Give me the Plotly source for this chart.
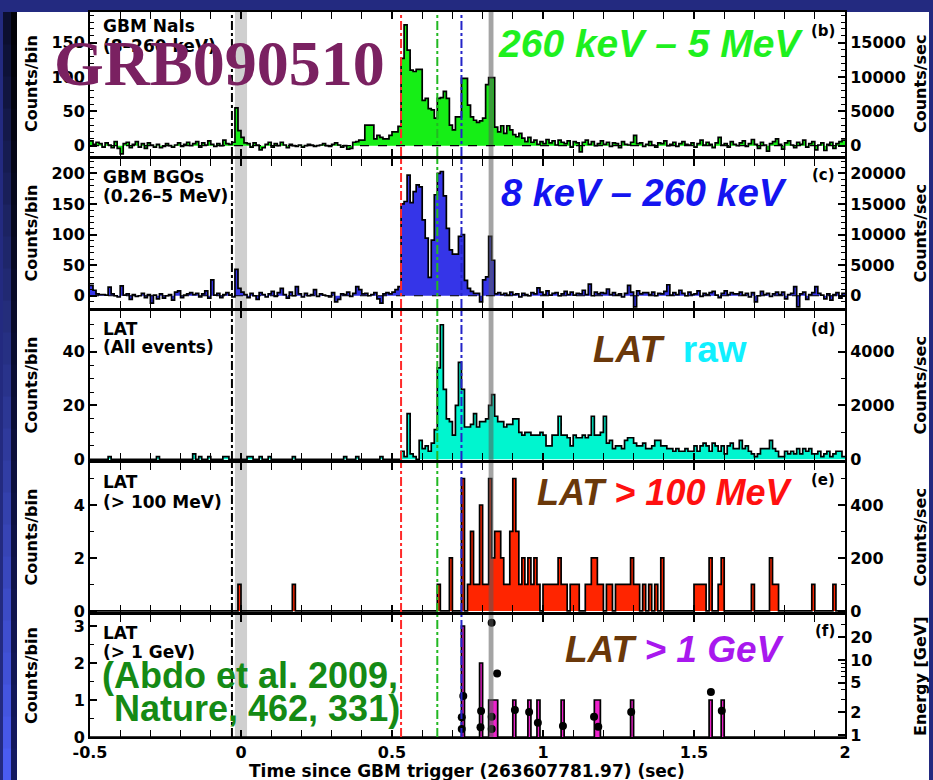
import numpy as np
import plotly.graph_objects as go

W, H = 933, 780

# ---------------------------------------------------------------- binning
T_START, T_STOP, BIN = -0.5, 2.0, 0.01
edges = np.round(np.arange(T_START, T_STOP + BIN / 2, BIN), 3)
N_BINS = len(edges) - 1          # 250 bins of 10 ms
RATE = 1.0 / BIN                 # counts/bin -> counts/sec

# ------------------------------------------------ GBM NaI counts per bin
nai_counts = (
    [7, 2, 5, 3, -2, 4, 1, -3, 6, -4, -12, 3, 5, -3, 2, 6, -2, 3, -4, 4,
     1, -2, 2, -3, -1, 3, 0, -2, 1, 4, -1, 2, 5, 0, 3, 6, -2, 4, 1, 7,
     2, -1, 3, 0, 8, 3, 2, 5]
    + [55, 22, 12, 4]
    + [3, -2, 4, 1, -6, -3, 2, 5, -2, 3, 0, 5, 1, -3, 2, 0, -1, 1, -2, 0,
       2, 1, -1, 0, 1, 3, 0, -1, 2, 4, 1, -2, 0]
    + [-5, -4, 5, 6, 8, 8]
    + [30, 30, 30]
    + [10, 15, 12, 10, 10, 15, 20, 20, 28]
    + [127, 176, 139, 110, 108, 111, 111, 66, 69, 54, 52, 40, 69, 70, 79,
       69, 30, 23, 42, 42, 98, 98, 59, 42, 37, 34, 36, 40, 89, 99, 99]
    + [27, 20, 29, 18, 29, 23, 16, 13, 18, 11]
    + [6, 12, 5, 8, 2, 6, 3, 9, 4, 7,
       1, 8, 5, 3, 7, -2, 6, 4, -9, 5,
       8, 2, 6, 0, 3, 7, 2, 5, -1, 4,
       3, -3, 6, 2, 1, 5, 15, 3, 4, -1,
       2, 6, 1, -2, 4, 3, 7, 0, 2, 5,
       -1, 3, 6, 2, 1, 4, -2, 3, 8, 1,
       5, 2, -3, 4, 12, 1, 3, -2, 6, 2,
       0, 4, 7, -1, 3, 9, 2, -4, 5, 1,
       -8, 3, 6, 10, 2, -5, 4, 7, 1, -3,
       5, 2, 8, -2, 3, 6, -6, 1, 4, -7,
       2, 5, -4, 3, 6, 8]
)

# ------------------------------------------------ GBM BGO counts per bin
bgo_counts = (
    [17, 9, 3, 2, 2, 1, 14, 3, 0, -2, 16, 1, 3, -6, 2, -1, 0, 4, -3, 2,
     -12, 1, -5, 3, -4, 0, 2, -7, 6, 8, -3, 1, 3, 5, 2, 4, -2, 3, 8, -4,
     26, 1, 4, -3, 2, 5, 1, -2]
    + [43, 12, 6, 2]
    + [-3, 4, 0, -6, 5, 2, -2, 3, 7, -1, 5, 12, 2, -4, 6, 0, 15, 3, -2, 4,
       0, 2, 10, -1, 3, 1, 0, -2, 5, -10, -6, 3, 2, 6, -1, 4, 15, 10, 3]
    + [4, 0, 2, 5, -5, -12, 3, 5, 3, 6, 10, 15]
    + [150, 154, 197, 152, 170, 181, 178, 124, 94, 30, 91, 165, 200, 203,
       163, 110, 75, 68, 68, 97, 100, 25, 12, 7, 4, 4, -10, 26, 31, 97, 58]
    + [3, 5, 2, 4, 1, 6, 2, 3, -2, 4,
       2, 0, 5, 3, 13, 6, 2, 8, 1, 4,
       5, 0, 3, 7, 2, 6, 1, 4, 3, 9,
       2, 19, 0, 6, 3, 5, 4, 11, 2, 5,
       1, 3, -2, 4, 17, 6, -18, 8, 3, 5,
       5, 2, 6, 0, 4, 3, 7, 18, 1, 5,
       2, 9, 4, 0, 6, 2, 3, 8, -1, 4,
       2, 5, 7, 1, -3, 4, 8, 2, 5, 3,
       3, 6, 1, 4, -2, 5, -10, 0, 7, 2,
       4, -1, 3, 6, 2, 6, -5, 2, 4, 15,
       -18, 3, 6, -6, 2, 5, 15, 4, 1, -5,
       3, -7, 2, 5, -4, 4]
)

# ------------------------------------------- LAT all events, counts per bin
lat_all_counts = (
    [0, 0, 0, 0, 0, 0, 1, 0, 0, 0, 0, 0, 0, 0, 0, 0, 0, 0, 0, 0,
     0, 0, 1, 0, 0, 0, 0, 0, 0, 0, 0, 0, 0, 0, 2, 0, 1, 0, 0, 1,
     0, 0, 0, 0, 1, 1, 0, 0]
    + [0, 0, 0, 0, 1, 1, 0, 0, 1, 0,
       0, 1, 0, 0, 0, 0, 0, 0, 0, 1,
       0, 0, 0, 0, 0, 0, 0, 0, 0, 0,
       0, 0, 0, 0, 0, 0, 1, 0, 0, 0,
       1, 0, 0, 0, 0, 0, 0, 0, 1, 0,
       0, 0, 0, 0, 0]
    + [3, 1, 17, 2, 1, 0, 7, 4, 5, 3, 6, 11, 34, 50, 26, 15, 14, 9, 20, 36,
       26, 12, 12, 13, 17, 12, 14, 14, 15, 20, 24]
    + [16, 14, 14, 12, 13, 13, 15, 15, 10, 9, 10, 10, 9, 9, 9, 10]
    + [9, 5, 5, 9, 9, 16, 9, 9, 8, 5,
       9, 8, 8, 9, 8, 9, 16, 9, 9, 10,
       16, 6, 7, 4, 5, 5, 4, 7, 8, 8,
       6, 5, 5, 6, 4, 4, 5, 7, 7, 5,
       5, 4, 4, 3, 4, 3, 3, 4, 3, 3,
       5, 3, 5, 6, 5, 3, 6, 5, 3, 5,
       2, 5, 6, 4, 4, 7, 4, 5, 3, 2,
       1, 2, 4, 4, 4, 7, 4, 3, 1, 1,
       3, 2, 3, 2, 4, 2, 4, 3, 4, 2,
       2, 3, 1, 2, 3, 1, 2, 3, 3, 1]
)

# ------------------------------ LAT > 100 MeV: non-empty bins (start time)
lat100_times = [-0.01, 0.17, 0.65, 0.69, 0.73, 0.75, 0.76, 0.77, 0.78, 0.79,
                0.80, 0.81, 0.82, 0.83, 0.84, 0.85, 0.86, 0.87, 0.88, 0.89,
                0.90, 0.91, 0.92, 0.93, 0.94, 0.95, 0.96, 0.97, 0.98, 1.00,
                1.01, 1.02, 1.03, 1.04, 1.05, 1.06, 1.07, 1.09, 1.10, 1.11,
                1.14, 1.15, 1.16, 1.17, 1.18, 1.19, 1.21, 1.22, 1.24, 1.25,
                1.26, 1.27, 1.28, 1.29, 1.30, 1.31, 1.33, 1.35, 1.37, 1.39,
                1.50, 1.51, 1.52, 1.53, 1.55, 1.58, 1.59, 1.69, 1.75, 1.76,
                1.77, 1.89, 1.96]
lat100_counts = [1, 1, 1, 2, 5, 1, 3, 1, 1, 4,
                 1, 1, 5, 2, 3, 3, 2, 1, 1, 3,
                 5, 3, 1, 2, 1, 2, 1, 2, 1, 1,
                 1, 1, 1, 1, 2, 1, 1, 1, 1, 1,
                 1, 1, 2, 2, 1, 1, 1, 1, 1, 1,
                 1, 1, 1, 2, 1, 1, 1, 1, 1, 2,
                 1, 1, 1, 1, 2, 1, 2, 1, 2, 1,
                 1, 1, 1]

# -------------------------------- LAT > 1 GeV: non-empty bins (start time)
lat1gev_times = [0.73, 0.79, 0.82, 0.83, 0.84, 0.90, 0.95, 0.98, 1.06,
                 1.17, 1.18, 1.29, 1.55, 1.59]
lat1gev_counts = [3, 2, 1, 1, 1, 1, 1, 1, 1, 1, 1, 1, 1, 1]

# ------------------------------------ individual > 1 GeV photons
photon_times = [0.736, 0.731, 0.731, 0.795, 0.793, 0.830, 0.830, 0.830,
                0.848, 0.907, 0.954, 0.983, 1.066, 1.169, 1.183, 1.292,
                1.556, 1.592]
photon_energy_gev = [3.3, 1.72, 1.2, 2.09, 1.27, 31.4, 1.75, 1.2,
                     6.6, 2.15, 2.03, 1.46, 1.32, 1.75, 1.29, 2.03,
                     3.74, 2.1]

# --------------------------------------------- time markers
marker_times = [-0.03, 0.53, 0.65, 0.73]
marker_colors = ["#000000", "#ff2a2a", "#22b822", "#2424c8"]
trigger_band = (-0.02, 0.02)
highlight_band = (0.82, 0.836)

x_tick_vals = [-0.5, 0, 0.5, 1, 1.5, 2]
x_tick_text = ["-0.5", "0", "0.5", "1", "1.5", "2"]

for arr in (nai_counts, bgo_counts, lat_all_counts):
    assert len(arr) == N_BINS, len(arr)


def sparse_to_bins(times, counts):
    out = np.zeros(N_BINS)
    for t, c in zip(times, counts):
        out[int(round((t - T_START) / BIN))] = c
    return out


lat100 = sparse_to_bins(lat100_times, lat100_counts)
lat1gev = sparse_to_bins(lat1gev_times, lat1gev_counts)

FIG_FONT = "DejaVu Sans"
SLIDE_FONT = "Liberation Sans"

panels = [
    dict(counts=np.array(nai_counts, float), fill="#16ee16",
         yrange=(-15, 194.6), dtick=50, minor=10, rdtick=5000, rminor=1000,
         px=(12, 156), zero_dash=True),
    dict(counts=np.array(bgo_counts, float), fill="#3535e8",
         yrange=(-20, 223.4), dtick=50, minor=10, rdtick=5000, rminor=1000,
         px=(159, 308), zero_dash=True),
    dict(counts=np.array(lat_all_counts, float), fill="#00f5cf",
         yrange=(-0.26, 55.1), dtick=20, minor=5, rdtick=2000, rminor=1000,
         px=(311, 460), zero_dash=False),
    dict(counts=lat100, fill="#ff2500",
         yrange=(-0.04, 5.585), dtick=2, minor=1, rdtick=200, rminor=100,
         px=(463, 612), zero_dash=False),
    dict(counts=lat1gev, fill="#ee22cc",
         yrange=(0, 3.297), dtick=1, minor=0.5, rdtick=None, rminor=None,
         px=(615, 737), zero_dash=False),
]

X_LEFT, X_RIGHT = 90 / W, 845 / W
tickfont = dict(family=FIG_FONT, size=16, color="black", weight="bold")

fig = go.Figure()
layout = {}
shapes = []

for i, p in enumerate(panels, start=1):
    sx = "" if i == 1 else str(i)
    xa, ya = f"x{sx}", f"y{sx}"
    ra = f"y{i + 5}"
    top, bot = p["px"]
    domain = [1 - bot / H, 1 - top / H]

    # step histogram
    c = p["counts"]
    fig.add_trace(go.Scatter(
        x=edges, y=np.append(c, c[-1]), mode="lines",
        line=dict(shape="hv", color="black", width=1.7),
        fill="tozeroy", fillcolor=p["fill"],
        xaxis=xa, yaxis=ya, hoverinfo="skip", showlegend=False))

    layout[f"xaxis{sx}"] = dict(
        domain=[X_LEFT, X_RIGHT], range=[T_START, T_STOP], anchor=ya,
        automargin=False,
        showline=True, linecolor="black", linewidth=2, mirror="allticks",
        ticks="inside", ticklen=7, tickwidth=1.5, tickcolor="black",
        tickmode="array", tickvals=x_tick_vals, ticktext=x_tick_text,
        showticklabels=(i == 5), tickfont=tickfont,
        minor=dict(ticks="inside", ticklen=4, tickwidth=1.2,
                   tickcolor="black", dtick=0.1, tick0=-0.5, showgrid=False),
        showgrid=False, zeroline=False, fixedrange=True)

    layout[f"yaxis{sx}"] = dict(
        domain=domain, range=list(p["yrange"]), anchor=xa, side="left",
        automargin=False,
        showline=True, linecolor="black", linewidth=2,
        ticks="inside", ticklen=7, tickwidth=1.5, tickcolor="black",
        dtick=p["dtick"], tick0=0, tickfont=tickfont, tickformat="d",
        minor=dict(ticks="inside", ticklen=4, tickwidth=1.2,
                   tickcolor="black", dtick=p["minor"], tick0=0,
                   showgrid=False),
        showgrid=False, zeroline=False, fixedrange=True)

    if p["rdtick"] is not None:
        layout[f"yaxis{i + 5}"] = dict(
            overlaying=ya, anchor=xa, side="right", automargin=False,
            range=[v * RATE for v in p["yrange"]],
            showline=True, linecolor="black", linewidth=2,
            ticks="inside", ticklen=7, tickwidth=1.5, tickcolor="black",
            dtick=p["rdtick"], tick0=0, tickfont=tickfont, tickformat="d",
            minor=dict(ticks="inside", ticklen=4, tickwidth=1.2,
                       tickcolor="black", dtick=p["rminor"], tick0=0,
                       showgrid=False),
            showgrid=False, zeroline=False, fixedrange=True)
        fig.add_trace(go.Scatter(x=[None], y=[None], xaxis=xa, yaxis=ra,
                                 hoverinfo="skip", showlegend=False))
    else:
        layout[f"yaxis{i + 5}"] = dict(
            overlaying=ya, anchor=xa, side="right", type="log",
            automargin=False, range=[-0.027, 1.6],
            showline=True, linecolor="black", linewidth=2,
            ticks="inside", ticklen=7, tickwidth=1.5, tickcolor="black",
            tickmode="array", tickvals=[1, 2, 5, 10, 20],
            ticktext=["1", "2", "5", "10", "20"], tickfont=tickfont,
            minor=dict(ticks="inside", ticklen=4, tickwidth=1.2,
                       tickcolor="black", tickmode="array",
                       tickvals=[3, 4, 6, 7, 8, 9, 30], showgrid=False),
            showgrid=False, zeroline=False, fixedrange=True)
        fig.add_trace(go.Scatter(
            x=photon_times, y=photon_energy_gev, mode="markers",
            marker=dict(color="black", size=8),
            xaxis=xa, yaxis=ra, hoverinfo="skip", showlegend=False))

    # shaded intervals
    shapes.append(dict(type="rect", xref=xa, yref=f"{ya} domain",
                       x0=trigger_band[0], x1=trigger_band[1], y0=0, y1=1,
                       fillcolor="#cfcfcf", line_width=0, layer="below"))
    shapes.append(dict(type="rect", xref=xa, yref=f"{ya} domain",
                       x0=highlight_band[0], x1=highlight_band[1], y0=0, y1=1,
                       fillcolor="rgba(90,90,90,0.55)", line_width=0,
                       layer="above"))
    # zero reference line
    if p["zero_dash"]:
        shapes.append(dict(type="line", xref=f"{xa} domain", yref=ya,
                           x0=0, x1=1, y0=0, y1=0,
                           line=dict(color="black", width=1.2, dash="dash"),
                           layer="above"))
    # time markers
    for t, col in zip(marker_times, marker_colors):
        shapes.append(dict(type="line", xref=xa, yref=f"{ya} domain",
                           x0=t, x1=t, y0=0, y1=1,
                           line=dict(color=col, width=2, dash="dashdot"),
                           layer="above"))

# --------------------------------------------------------- slide framing
NAVY = "#232a80"
shapes.insert(0, dict(type="rect", xref="paper", yref="paper",
                      x0=17 / W, x1=929 / W, y0=0, y1=1 - 12 / H,
                      fillcolor="white", line_width=0, layer="below"))
n_seg = 24
inner_top, inner_bot = np.array([12, 15, 48]), np.array([74, 92, 240])
outer_top, outer_bot = np.array([2, 2, 8]), np.array([20, 26, 96])
for s in range(n_seg):
    f = s / (n_seg - 1)
    y_hi = 12 + s * (768 / n_seg)
    y_lo = y_hi + 768 / n_seg + 0.5
    ci = inner_top + (inner_bot - inner_top) * f
    co = outer_top + (outer_bot - outer_top) * f
    shapes.insert(0, dict(type="rect", xref="paper", yref="paper",
                          x0=3 / W, x1=11 / W, y0=1 - y_lo / H, y1=1 - y_hi / H,
                          fillcolor="rgb(%d,%d,%d)" % tuple(ci.astype(int)),
                          line_width=0, layer="below"))
    shapes.insert(0, dict(type="rect", xref="paper", yref="paper",
                          x0=11 / W, x1=17 / W, y0=1 - y_lo / H, y1=1 - y_hi / H,
                          fillcolor="rgb(%d,%d,%d)" % tuple(co.astype(int)),
                          line_width=0, layer="below"))

# ------------------------------------------------------------ text
annotations = []


def txt(text, x, y, size, family=FIG_FONT, color="black", xanchor="left",
        angle=0, weight="bold"):
    annotations.append(dict(
        text=text, x=x / W, y=1 - y / H, xref="paper", yref="paper",
        xanchor=xanchor, yanchor="middle", showarrow=False, textangle=angle,
        font=dict(family=family, size=size, color=color, weight=weight)))


# detector / energy-band labels
for line, y in [("GBM NaIs", 26.5), ("(8–260 keV)", 45.5),
                ("GBM BGOs", 177.5), ("(0.26–5 MeV)", 195.5),
                ("LAT", 328.5), ("(All events)", 347),
                ("LAT", 481.5), ("(> 100 MeV)", 501.5),
                ("LAT", 632.5), ("(> 1 GeV)", 651.5)]:
    txt(line, 101, y, 17)

for letter, y in [("(b)", 31), ("(c)", 174.5), ("(d)", 329),
                  ("(e)", 479.5), ("(f)", 631)]:
    txt(letter, 837, y, 15, xanchor="right")

# axis titles
for i, p in enumerate(panels):
    yc = (p["px"][0] + p["px"][1]) / 2
    txt("Counts/bin", 31, yc, 16, xanchor="center", angle=-90)
    txt("Energy [GeV]" if i == 4 else "Counts/sec", 920, yc, 16,
        xanchor="center", angle=-90)
txt("Time since GBM trigger (263607781.97) (sec)", 467.5, 771, 17,
    xanchor="center")

# overlay captions
BROWN = "#6a380a"
txt("<i>260 keV – 5 MeV</i>", 650.5, 43, 39, SLIDE_FONT, "#1ef01e", "center")
txt("<i>8 keV – 260 keV</i>", 644, 192.5, 38, SLIDE_FONT, "#1414f0", "center")
txt(f"<i><span style='color:{BROWN}'>LAT</span></i>\u00a0 "
    "<span style='color:#10f0ff'>raw</span>", 670, 350, 37, SLIDE_FONT,
    BROWN, "center")
txt(f"<i><span style='color:{BROWN}'>LAT</span> "
    "<span style='color:#ff1010'>&gt; 100 MeV</span></i>", 664, 492.5, 36,
    SLIDE_FONT, BROWN, "center")
txt(f"<i><span style='color:{BROWN}'>LAT</span> "
    "<span style='color:#a818ee'>&gt; 1 GeV</span></i>", 675, 649, 37,
    SLIDE_FONT, BROWN, "center")
txt("(Abdo et al. 2009,", 250.5, 675.5, 36, SLIDE_FONT, "#158a15", "center")
txt("Nature, 462, 331)", 256.5, 708.5, 36, SLIDE_FONT, "#158a15", "center")
txt("GRB090510", 219, 63.5, 64, "Liberation Serif", "#7a2161", "center")

fig.update_layout(
    width=W, height=H, margin=dict(l=0, r=0, t=0, b=0, autoexpand=False),
    paper_bgcolor=NAVY, plot_bgcolor="white",
    shapes=shapes, annotations=annotations, showlegend=False,
    **layout)

fig.write_html("out.html")
